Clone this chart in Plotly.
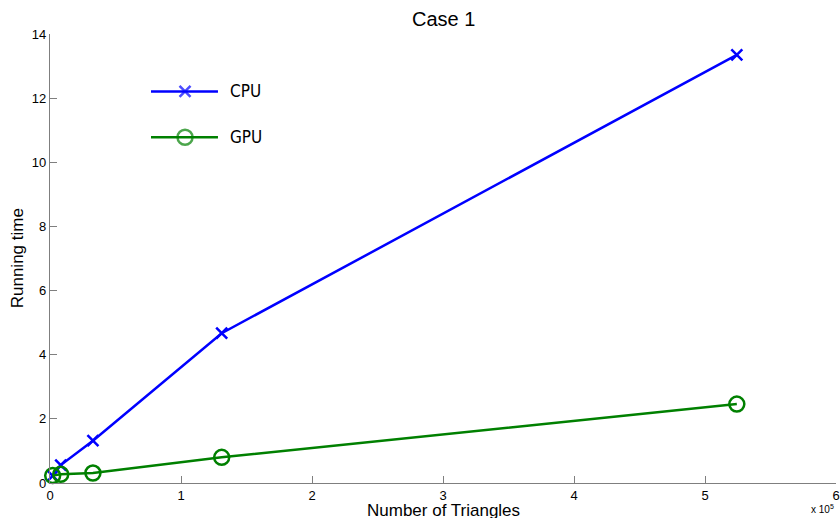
import plotly.graph_objects as go

# Data (x in units of 1e5 triangles)
triangles = [0.02048, 0.08192, 0.32768, 1.31072, 5.24288]
cpu_time = [0.22, 0.56, 1.32, 4.67, 13.35]
gpu_time = [0.23, 0.27, 0.31, 0.80, 2.46]
x_ticks = [0, 1, 2, 3, 4, 5, 6]
y_ticks = [0, 2, 4, 6, 8, 10, 12, 14]
series_names = ["CPU", "GPU"]

BLUE = "rgb(0,0,255)"
GREEN = "rgb(0,128,0)"
FONT = "Liberation Sans, Arial, sans-serif"

fig = go.Figure()
fig.add_trace(go.Scatter(
    x=triangles, y=cpu_time, mode="lines+markers", name=series_names[0],
    line=dict(color=BLUE, width=2.5),
    marker=dict(symbol="x-thin", size=11, line=dict(color=BLUE, width=2.5)),
    showlegend=False, cliponaxis=False))
fig.add_trace(go.Scatter(
    x=triangles, y=gpu_time, mode="lines+markers", name=series_names[1],
    line=dict(color=GREEN, width=2.5),
    marker=dict(symbol="circle-open", size=15, color=GREEN, line=dict(color=GREEN, width=2.5)),
    showlegend=False, cliponaxis=False))

# Custom legend glyphs on an overlay axis (0..1 plot fractions)
leg_x = [0.1285, 0.1718, 0.2137]
for name, yy, col, sym, sz in [(series_names[0], 0.872, BLUE, "x-thin", 11),
                               (series_names[1], 0.770, GREEN, "circle-open", 15)]:
    fig.add_trace(go.Scatter(
        x=leg_x, y=[yy] * 3, mode="lines+markers", xaxis="x2", yaxis="y2",
        line=dict(color=col, width=2.5),
        marker=dict(symbol=sym, size=[0, sz, 0], color=col, line=dict(color=col, width=2.5)),
        showlegend=False, hoverinfo="skip"))
    fig.add_annotation(x=0.2265, y=yy, xref="x2", yref="y2",
                       text='<span style="font-stretch:condensed">' + name + '</span>',
                       showarrow=False, xanchor="left", yanchor="middle",
                       font=dict(family="DejaVu Sans Condensed, Liberation Sans Narrow, sans-serif",
                                 size=17, color="black"))

# Title and axis titles as annotations for exact placement
fig.add_annotation(x=0.5, y=1.0334, xref="paper", yref="paper", text="Case 1",
                   showarrow=False, xanchor="center", yanchor="middle",
                   font=dict(family=FONT, size=20, color="black"))
fig.add_annotation(x=0.5, y=-0.061, xref="paper", yref="paper", text="Number of Triangles",
                   showarrow=False, xanchor="center", yanchor="middle",
                   font=dict(family=FONT, size=17, color="black"))
fig.add_annotation(x=-0.041, y=0.5, xref="paper", yref="paper", text="Running time",
                   showarrow=False, xanchor="center", yanchor="middle", textangle=-90,
                   font=dict(family=FONT, size=17, color="black"))
fig.add_annotation(x=1.0, y=-0.058, xref="paper", yref="paper", text="x 10<sup>5</sup>",
                   showarrow=False, xanchor="right", yanchor="middle",
                   font=dict(family=FONT, size=10, color="black"))

axis_common = dict(showgrid=False, zeroline=False, showline=True, linecolor="#7f7f7f",
                   linewidth=1.2, ticks="inside", ticklen=7, tickcolor="#7f7f7f",
                   tickfont=dict(family=FONT, size=13, color="black"), mirror=False,
                   automargin=False)

fig.update_layout(
    width=840, height=518,
    margin=dict(l=50, r=4, t=34, b=35),
    plot_bgcolor="white", paper_bgcolor="white",
    xaxis=dict(range=[0, 6], tickvals=x_ticks, ticktext=[str(v) for v in x_ticks],
               ticklabelstandoff=0, **axis_common),
    yaxis=dict(range=[0, 14], tickvals=y_ticks, ticktext=[str(v) for v in y_ticks],
               ticklabelstandoff=0, **axis_common),
    xaxis2=dict(range=[0, 1], overlaying="x", visible=False, anchor="y2"),
    yaxis2=dict(range=[0, 1], overlaying="y", visible=False, anchor="x2"),
)

fig.write_html("out.html", config={"displayModeBar": False},
               post_script="document.body.style.margin='0px';document.body.style.overflow='hidden';")
